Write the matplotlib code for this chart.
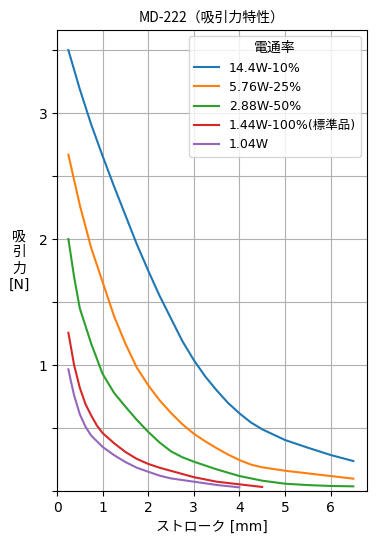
import matplotlib.pyplot as plt
import numpy as np

plt.rcParams['font.family'] = ['DejaVu Sans', 'Noto Sans CJK JP']

# データ (ストローク mm, 吸引力 N)
x_144 = [0.25, 0.5, 0.75, 1.0, 1.25, 1.5, 1.75, 2.0, 2.25, 2.5, 2.75, 3.0, 3.25, 3.5, 3.75, 4.0, 4.25, 4.5, 5.0, 5.5, 6.0, 6.5]
y_144 = [3.50, 3.19, 2.91, 2.66, 2.42, 2.19, 1.96, 1.75, 1.55, 1.37, 1.19, 1.04, 0.91, 0.80, 0.70, 0.617, 0.545, 0.49, 0.405, 0.344, 0.286, 0.238]

x_576 = [0.25, 0.5, 0.75, 1.0, 1.25, 1.5, 1.75, 2.0, 2.25, 2.5, 2.75, 3.0, 3.25, 3.5, 3.75, 4.0, 4.25, 4.5, 5.0, 5.5, 6.0, 6.5]
y_576 = [2.67, 2.27, 1.93, 1.66, 1.39, 1.17, 0.98, 0.84, 0.72, 0.62, 0.53, 0.455, 0.395, 0.34, 0.29, 0.246, 0.21, 0.188, 0.161, 0.14, 0.119, 0.098]

x_288 = [0.25, 0.375, 0.5, 0.75, 1.0, 1.25, 1.5, 1.75, 2.0, 2.25, 2.5, 2.75, 3.0, 3.5, 4.0, 4.5, 5.0, 5.5, 6.0, 6.5]
y_288 = [2.00, 1.70, 1.45, 1.17, 0.93, 0.78, 0.67, 0.565, 0.47, 0.385, 0.315, 0.268, 0.233, 0.172, 0.119, 0.082, 0.058, 0.047, 0.04, 0.037]

x_144b = [0.25, 0.375, 0.5, 0.625, 0.75, 0.875, 1.0, 1.25, 1.5, 1.75, 2.0, 2.25, 2.5, 3.0, 3.5, 4.0, 4.5]
y_144b = [1.256, 1.00, 0.82, 0.69, 0.60, 0.52, 0.46, 0.38, 0.31, 0.255, 0.215, 0.185, 0.16, 0.11, 0.074, 0.053, 0.032]

x_104 = [0.25, 0.3, 0.375, 0.5, 0.625, 0.75, 1.0, 1.25, 1.5, 1.75, 2.0, 2.25, 2.5, 3.0, 3.5, 4.0]
y_104 = [0.966, 0.88, 0.76, 0.61, 0.51, 0.44, 0.35, 0.285, 0.23, 0.185, 0.153, 0.122, 0.10, 0.074, 0.048, 0.029]

labels = ['14.4W-10%', '5.76W-25%', '2.88W-50%', '1.44W-100%(標準品)', '1.04W']

fig = plt.figure(figsize=(3.76, 5.45), dpi=100)
ax = fig.add_axes([57/376, 54/545, 310/376, 461/545])

ax.plot(x_144, y_144, label=labels[0])
ax.plot(x_576, y_576, label=labels[1])
ax.plot(x_288, y_288, label=labels[2])
ax.plot(x_144b, y_144b, label=labels[3])
ax.plot(x_104, y_104, label=labels[4])

ax.set_xlim(0, 6.8)
ax.set_ylim(0, 3.66)
ax.set_xticks(range(0, 7))
yt = np.arange(0, 3.6, 0.5)
ax.set_yticks(yt)
ax.set_yticklabels(['', '', '1', '', '2', '', '3', ''])
ax.grid(True, color='#b0b0b0')

ax.set_title('MD-222（吸引力特性）', fontsize=10, family=['Noto Sans CJK JP'])
ax.set_xlabel('ストローク [mm]')
ax.set_ylabel('吸\n引\n力\n[N]', rotation=0, labelpad=14, va='center')
ax.legend(title='電通率', loc='upper right', fontsize=9, title_fontsize=10)

plt.savefig('out.png', dpi=100)
